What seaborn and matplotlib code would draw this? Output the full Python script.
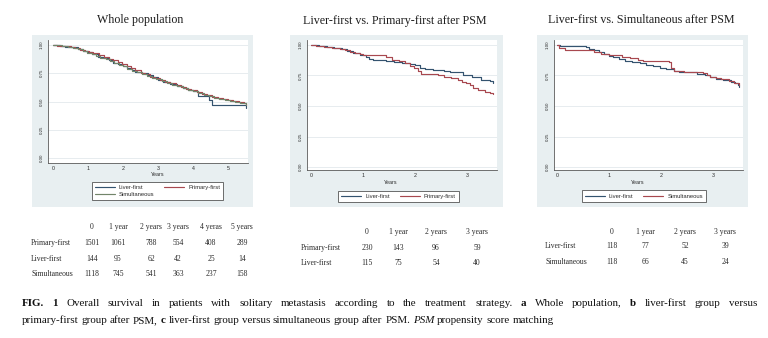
import matplotlib
matplotlib.use("Agg")
import matplotlib.pyplot as plt
import seaborn as sns
import pandas as pd
from matplotlib.lines import Line2D
from matplotlib.patches import Rectangle

# ---------------------------------------------------------------- data
# Kaplan-Meier estimates: time in years, overall survival probability
whole_liver_t = [0, 0.2, 0.35, 0.6, 0.72, 0.85, 1.0, 1.12, 1.28, 1.45, 1.6, 1.72, 1.85, 2.0, 2.1,
                 2.25, 2.35, 2.55, 2.7, 2.85, 3.0, 3.15, 3.35, 3.55, 3.7, 3.85, 4.0, 4.15, 4.45, 4.55, 5.5]
whole_liver_s = [1.0, 0.993, 0.986, 0.979, 0.965, 0.951, 0.937, 0.916, 0.895, 0.881, 0.867, 0.845, 0.83,
                 0.815, 0.8, 0.78, 0.765, 0.75, 0.735, 0.715, 0.69, 0.675, 0.655, 0.64, 0.62, 0.605, 0.59,
                 0.545, 0.515, 0.465, 0.44]
whole_primary_t = [0, 0.12, 0.3, 0.5, 0.62, 0.78, 0.9, 1.02, 1.15, 1.3, 1.45, 1.6, 1.72, 1.85, 1.97, 2.1,
                   2.22, 2.35, 2.5, 2.63, 2.78, 2.9, 3.05, 3.2, 3.35, 3.5, 3.65, 3.8, 3.95, 4.1, 4.25, 4.4,
                   4.55, 4.7, 4.85, 5.0, 5.15, 5.3, 5.45, 5.5]
whole_primary_s = [1.0, 0.995, 0.99, 0.982, 0.975, 0.96, 0.948, 0.935, 0.925, 0.912, 0.895, 0.88, 0.868,
                   0.85, 0.83, 0.81, 0.795, 0.775, 0.755, 0.74, 0.72, 0.705, 0.69, 0.675, 0.66, 0.645,
                   0.63, 0.615, 0.6, 0.585, 0.57, 0.556, 0.543, 0.532, 0.522, 0.513, 0.505, 0.498, 0.49,
                   0.465]
whole_simult_t = [0, 0.1, 0.25, 0.42, 0.58, 0.7, 0.85, 0.97, 1.1, 1.22, 1.35, 1.5, 1.62, 1.75, 1.88, 2.0,
                  2.12, 2.27, 2.4, 2.55, 2.68, 2.82, 2.95, 3.1, 3.25, 3.4, 3.55, 3.7, 3.85, 4.0, 4.15,
                  4.3, 4.45, 4.6, 4.75, 4.9, 5.05, 5.2, 5.35, 5.5]
whole_simult_s = [1.0, 0.996, 0.99, 0.982, 0.972, 0.962, 0.948, 0.932, 0.918, 0.9, 0.888, 0.872, 0.858,
                  0.84, 0.825, 0.81, 0.79, 0.772, 0.758, 0.745, 0.73, 0.712, 0.695, 0.682, 0.665, 0.65,
                  0.635, 0.62, 0.605, 0.59, 0.575, 0.56, 0.545, 0.535, 0.525, 0.515, 0.505, 0.495, 0.488,
                  0.47]

lp_liver_t = [0, 0.15, 0.3, 0.45, 0.6, 0.7, 0.8, 0.95, 1.05, 1.12, 1.2, 1.45, 1.6, 1.75, 1.9, 2.0, 2.1,
              2.2, 2.35, 2.55, 2.68, 2.92, 3.0, 3.1, 3.26, 3.45, 3.5]
lp_liver_s = [1.0, 0.99, 0.983, 0.975, 0.968, 0.952, 0.935, 0.92, 0.9, 0.885, 0.877, 0.87, 0.862, 0.855,
              0.845, 0.835, 0.81, 0.805, 0.795, 0.79, 0.78, 0.755, 0.752, 0.74, 0.713, 0.705, 0.69]
lp_primary_t = [0, 0.1, 0.25, 0.4, 0.55, 0.65, 0.75, 0.85, 0.95, 1.0, 1.45, 1.55, 1.7, 1.8, 1.9, 1.98,
                2.05, 2.12, 2.45, 2.55, 2.7, 2.82, 2.9, 2.98, 3.05, 3.12, 3.22, 3.35, 3.44, 3.5]
lp_primary_s = [1.0, 0.99, 0.985, 0.975, 0.965, 0.955, 0.945, 0.935, 0.925, 0.918, 0.905, 0.88, 0.865,
                0.85, 0.83, 0.815, 0.79, 0.76, 0.752, 0.74, 0.727, 0.712, 0.7, 0.685, 0.67, 0.648, 0.63,
                0.618, 0.61, 0.598]

ls_liver_t = [0, 0.05, 0.55, 0.62, 0.72, 0.8, 0.9, 1.0, 1.08, 1.2, 1.3, 1.45, 1.6, 1.72, 1.85, 1.98, 2.1,
              2.25, 2.35, 2.7, 2.85, 2.95, 3.05, 3.2, 3.35, 3.42, 3.48, 3.5]
ls_liver_s = [1.0, 0.99, 0.982, 0.97, 0.955, 0.94, 0.925, 0.912, 0.898, 0.885, 0.872, 0.862, 0.85, 0.838,
              0.825, 0.812, 0.8, 0.785, 0.775, 0.765, 0.75, 0.735, 0.725, 0.715, 0.7, 0.685, 0.67, 0.655]
ls_simult_t = [0, 0.04, 0.15, 0.6, 0.72, 0.85, 1.0, 1.25, 1.4, 1.55, 1.65, 2.15, 2.2, 2.25, 2.45, 2.8,
               2.88, 2.95, 3.05, 3.15, 3.3, 3.4, 3.5]
ls_simult_s = [1.0, 0.975, 0.962, 0.955, 0.942, 0.93, 0.918, 0.905, 0.892, 0.878, 0.868, 0.86, 0.815,
               0.785, 0.777, 0.768, 0.75, 0.74, 0.728, 0.72, 0.705, 0.69, 0.67]

# Numbers at risk
whole_risk_cols = ["0", "1 year", "2 years", "3 years", "4 yeras", "5 years"]
whole_risk_rows = ["Primary-first", "Liver-first", "Simultaneous"]
whole_risk_primary = [1501, 1061, 788, 554, 408, 289]
whole_risk_liver = [144, 95, 62, 42, 25, 14]
whole_risk_simult = [1118, 745, 541, 363, 237, 158]

lp_risk_cols = ["0", "1 year", "2 years", "3 years"]
lp_risk_rows = ["Primary-first", "Liver-first"]
lp_risk_primary = [230, 143, 96, 59]
lp_risk_liver = [115, 75, 54, 40]

ls_risk_cols = ["0", "1 year", "2 years", "3 years"]
ls_risk_rows = ["Liver-first", "Simultaneous"]
ls_risk_liver = [118, 77, 52, 39]
ls_risk_simult = [118, 66, 45, 24]

titles = ["Whole population", "Liver-first vs. Primary-first after PSM",
          "Liver-first vs. Simultaneous after PSM"]

# ---------------------------------------------------------------- style
W, H = 768, 338
sns.set_theme(style="white")
SANS = ["Liberation Sans", "DejaVu Sans"]
SERIF = ["Liberation Serif", "DejaVu Serif"]
plt.rcParams["font.family"] = SANS

NAVY = "#34536f"
MAROON = "#a8484f"
GREEN = "#72856a"
GRAPH_BG = "#e8eff1"
AXC = "#5a5a5a"
TXT = "#2a2a2a"

fig = plt.figure(figsize=(W / 100, H / 100), dpi=100)
fig.patch.set_facecolor("white")
renderer = fig.canvas.get_renderer()


def fx(px):
    return px / W


def fy(py):
    return 1 - py / H


def text_w(s, size, family=SERIF, weight="normal", style="normal"):
    t = fig.text(0, 0, s, fontsize=size, family=family, weight=weight, style=style)
    w = t.get_window_extent(renderer).width
    t.remove()
    return w


def fit_size(s, target_px, family=SERIF, weight="normal"):
    return 10 * target_px / text_w(s, 10, family, weight)


def km_frame(groups):
    rows = []
    for name, t, s in groups:
        rows.append(pd.DataFrame({"Years": t, "Survival": s, "group": name}))
    return pd.concat(rows, ignore_index=True)


panels = [
    dict(title=titles[0], bg=(32, 35, 253, 207), box=(48, 40, 248, 163),
         xlim=(-5 / 35, 195 / 35), ylim=(-5 / 113, 1 + 5 / 113), xticks=[0, 1, 2, 3, 4, 5],
         groups=[("Liver-first", whole_liver_t, whole_liver_s),
                 ("Primary-first", whole_primary_t, whole_primary_s),
                 ("Simultaneous", whole_simult_t, whole_simult_s)],
         legend_order=["Liver-first", "Simultaneous", "Primary-first"],
         palette={"Liver-first": NAVY, "Primary-first": MAROON, "Simultaneous": GREEN},
         title_xy=(140, 20), years_xy=(158, 174.5), legend_xy=(157.5, 191)),
    dict(title=titles[1], bg=(290, 35, 503, 207), box=(307, 40, 497, 170),
         xlim=(-4 / 52, 186 / 52), ylim=(-3 / 122, 1 + 5 / 122), xticks=[0, 1, 2, 3],
         groups=[("Liver-first", lp_liver_t, lp_liver_s),
                 ("Primary-first", lp_primary_t, lp_primary_s)],
         legend_order=["Liver-first", "Primary-first"],
         palette={"Liver-first": NAVY, "Primary-first": MAROON},
         title_xy=(395, 21), years_xy=(391, 183), legend_xy=(398.5, 196.5)),
    dict(title=titles[2], bg=(537, 35, 748, 207), box=(554, 40, 743, 170),
         xlim=(-3 / 52, 186 / 52), ylim=(-3 / 122, 1 + 5 / 122), xticks=[0, 1, 2, 3],
         groups=[("Liver-first", ls_liver_t, ls_liver_s),
                 ("Simultaneous", ls_simult_t, ls_simult_s)],
         legend_order=["Liver-first", "Simultaneous"],
         palette={"Liver-first": NAVY, "Simultaneous": MAROON},
         title_xy=(641, 20), years_xy=(638, 183), legend_xy=(644, 196)),
]

title_size = fit_size(titles[1], 184)

for p in panels:
    x0, y0, x1, y1 = p["bg"]
    fig.add_artist(Rectangle((fx(x0), fy(y1)), fx(x1) - fx(x0), fy(y0) - fy(y1),
                             transform=fig.transFigure, facecolor=GRAPH_BG,
                             edgecolor="none", zorder=-5))
    l, t, r, b = p["box"]
    ax = fig.add_axes([fx(l), fy(b), fx(r) - fx(l), fy(t) - fy(b)])
    ax.set_facecolor("white")

    df = km_frame(p["groups"])
    sns.lineplot(data=df, x="Years", y="Survival", hue="group", palette=p["palette"],
                 estimator=None, sort=False, drawstyle="steps-post", linewidth=0.85,
                 legend=False, ax=ax)

    ax.set_xlim(*p["xlim"])
    ax.set_ylim(*p["ylim"])
    ax.set_xticks(p["xticks"])
    ax.set_xticklabels([str(v) for v in p["xticks"]])
    yt = [0, 0.25, 0.5, 0.75, 1.0]
    ax.set_yticks(yt)
    ax.set_yticklabels([f"{v:.2f}" for v in yt], rotation=90, va="center")
    ax.grid(False)
    ax.yaxis.grid(True, color="#e3e9ec", linewidth=0.6)
    for s in ["top", "right"]:
        ax.spines[s].set_visible(False)
    for s in ["left", "bottom"]:
        ax.spines[s].set_color(AXC)
        ax.spines[s].set_linewidth(0.6)
    ax.tick_params(direction="out", length=1.6, width=0.5, color=AXC, labelcolor=TXT)
    ax.tick_params(axis="x", labelsize=3.8, pad=0.6)
    ax.tick_params(axis="y", labelsize=3.2, pad=1.6)
    ax.set_xlabel("")
    ax.set_ylabel("")

    fig.text(fx(p["years_xy"][0]), fy(p["years_xy"][1]), "Years", fontsize=3.9,
             ha="center", va="center", color=TXT)
    fig.text(fx(p["title_xy"][0]), fy(p["title_xy"][1]), p["title"], family=SERIF,
             fontsize=title_size, ha="center", va="center", color="#1e1e1e")

    handles = [Line2D([], [], color=p["palette"][g], lw=0.85) for g in p["legend_order"]]
    leg = ax.legend(handles, p["legend_order"], loc="center",
                    bbox_to_anchor=(fx(p["legend_xy"][0]), fy(p["legend_xy"][1])),
                    bbox_transform=fig.transFigure, ncol=2, fontsize=4.2, frameon=True,
                    fancybox=False, framealpha=1, edgecolor="#555555", handlelength=3.4,
                    handletextpad=0.7, columnspacing=1.7, borderpad=0.55, labelspacing=0.3)
    leg.get_frame().set_linewidth(0.6)
    for txt in leg.get_texts():
        txt.set_color(TXT)

# ---------------------------------------------------------------- risk tables
TAB_SIZE = 5.5


def risk_table(label_x, col_x, header_y, row_y, cols, rows, values):
    for cx, c in zip(col_x, cols):
        fig.text(fx(cx), fy(header_y), c, family=SERIF, fontsize=TAB_SIZE, ha="center",
                 va="center", color=TXT)
    for ry, name, vals in zip(row_y, rows, values):
        fig.text(fx(label_x), fy(ry), name, family=SERIF, fontsize=TAB_SIZE, ha="left",
                 va="center", color=TXT)
        for cx, v in zip(col_x, vals):
            fig.text(fx(cx), fy(ry), str(v), family=SERIF, fontsize=TAB_SIZE, ha="center",
                     va="center", color=TXT)


risk_table(31, [92, 118, 151, 178, 211, 242], 227, [243, 259, 274],
           whole_risk_cols, whole_risk_rows,
           [whole_risk_primary, whole_risk_liver, whole_risk_simult])
risk_table(301, [367, 398, 436, 477], 232, [248, 263],
           lp_risk_cols, lp_risk_rows, [lp_risk_primary, lp_risk_liver])
risk_table(545, [612, 645, 685, 725], 232, [246, 262],
           ls_risk_cols, ls_risk_rows, [ls_risk_liver, ls_risk_simult])

# ---------------------------------------------------------------- caption
cap_line1 = [("FIG. 1", "bold", "normal"),
             ("Overall survival in patients with solitary metastasis according to the "
              "treatment strategy.", "normal", "normal"),
             ("a", "bold", "normal"), ("Whole population,", "normal", "normal"),
             ("b", "bold", "normal"), ("liver-first group versus", "normal", "normal")]
cap_line2 = [("primary-first group after PSM,", "normal", "normal"), ("c", "bold", "normal"),
             ("liver-first group versus simultaneous group after PSM.", "normal", "normal"),
             ("PSM", "normal", "italic"), ("propensity score matching", "normal", "normal")]


def words_of(runs):
    out = []
    for text, weight, style in runs:
        for w in text.split(" "):
            out.append((w, weight, style))
    return out


def line_width(words, size):
    space = text_w("a a", size) - text_w("aa", size)
    return sum(text_w(w, size, SERIF, wt, st) for w, wt, st in words) + space * (len(words) - 1)


def draw_line(words, x_left, y, size, width=None):
    widths = [text_w(w, size, SERIF, wt, st) for w, wt, st in words]
    if width is None:
        gap = text_w("a a", size) - text_w("aa", size)
    else:
        gap = (width - sum(widths)) / (len(words) - 1)
    x = x_left
    for (w, wt, st), ww in zip(words, widths):
        fig.text(fx(x), fy(y), w, family=SERIF, fontsize=size, weight=wt, style=st,
                 ha="left", va="baseline", color="#111111")
        x += ww + gap


w2 = words_of(cap_line2)
cap_size = 10 * 528 / line_width(w2, 10)
draw_line(words_of(cap_line1), 22, 306, cap_size, width=735)
draw_line(w2, 22, 323, cap_size)

fig.savefig("out.png", dpi=100, facecolor="white")
